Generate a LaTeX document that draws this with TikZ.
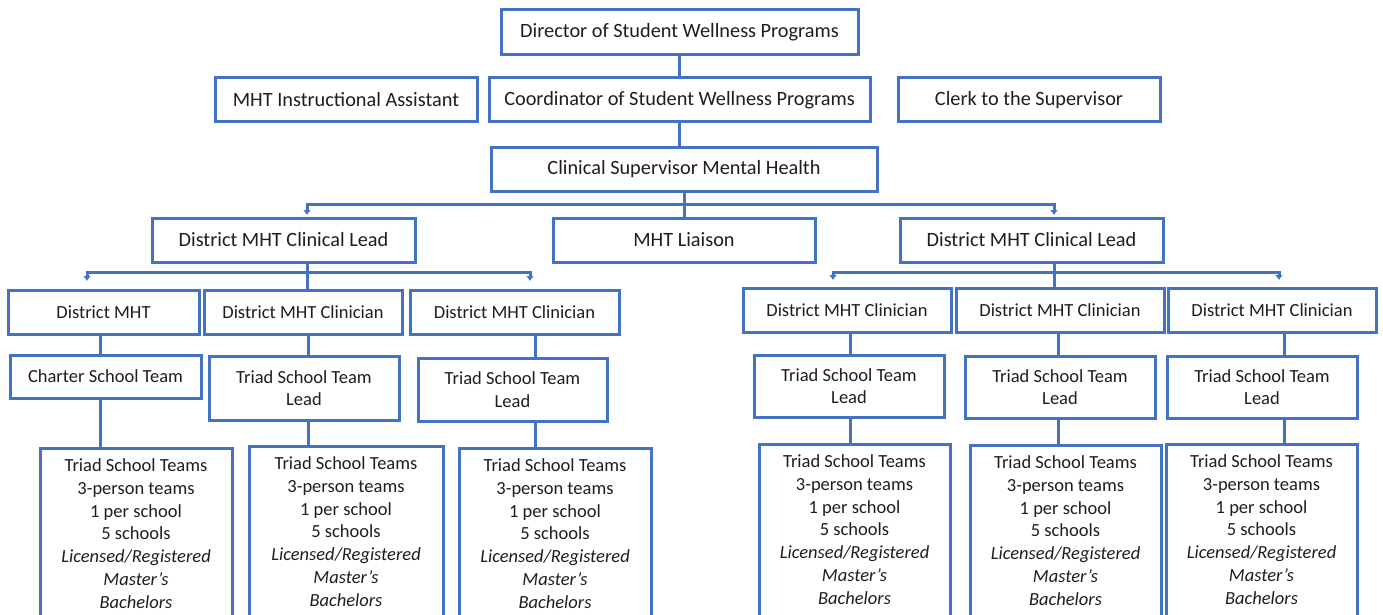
\documentclass[tikz,border=0pt]{standalone}
\usepackage{fontspec}
\setmainfont{Carlito}
\usetikzlibrary{arrows.meta}
\definecolor{orgblue}{HTML}{4472C4}
\definecolor{inkgray}{HTML}{1E1E1E}
\tikzset{->/.style = {-{Latex[length=5pt, width=8pt]}}}
\tikzset{post/.style = {draw=orgblue, line width=3pt, fill=white, text=inkgray,
                        inner sep=0pt, align=center,
                        font=\fontsize{20.3}{24}\selectfont},
         staff/.style = {post, font=\fontsize{18.5}{22.7}\selectfont},
         teams/.style = {staff, anchor=north, inner ysep=10.5pt},
         link/.style = {color=orgblue, line width=3pt}}

\begin{document}
\begin{tikzpicture}[x=1pt, y=-1pt]
    \useasboundingbox (0, 0) rectangle (1383, 615);
    \clip (0, 0) rectangle (1383, 615);

    % office of the director
    \node [post, minimum width=357pt, minimum height=45pt] (director) at (679.5, 32.5) {Director of Student Wellness Programs};
    \node [post, minimum width=262pt, minimum height=44pt] (assistant) at (346, 100) {MHT Instructional Assistant};
    \node [post, minimum width=381pt, minimum height=44pt] (coord) at (679.5, 100) {Coordinator of Student Wellness Programs};
    \node [post, minimum width=262pt, minimum height=44pt] (clerk) at (1029, 100) {Clerk to the Supervisor};
    \node [post, minimum width=386pt, minimum height=44pt] (clinsup) at (684, 169) {Clinical Supervisor Mental Health};

    \node [post, minimum width=263pt, minimum height=44pt] (leadL) at (283.5, 240) {District MHT Clinical Lead};
    \node [post, minimum width=262pt, minimum height=44pt] (liaison) at (684, 240) {MHT Liaison};
    \node [post, minimum width=263pt, minimum height=44pt] (leadR) at (1031.5, 240) {District MHT Clinical Lead};

    % clinicians
    \node [staff, minimum width=191pt, minimum height=44pt] (dmht) at (103.5, 312) {District MHT};
    \node [staff, minimum width=198pt, minimum height=44pt] (clinA) at (303, 312) {District MHT Clinician};
    \node [staff, minimum width=209pt, minimum height=44pt] (clinB) at (514.5, 312) {District MHT Clinician};
    \node [staff, minimum width=208pt, minimum height=44pt] (clinC) at (847, 310) {District MHT Clinician};
    \node [staff, minimum width=208pt, minimum height=44pt] (clinD) at (1060, 310) {District MHT Clinician};
    \node [staff, minimum width=208pt, minimum height=44pt] (clinE) at (1272, 310) {District MHT Clinician};

    % team leads
    \node [staff, minimum width=191pt, minimum height=43pt] (charter) at (105.5, 376.5) {Charter School Team};
    \node [staff, minimum width=190pt, minimum height=64pt] (tlA) at (304, 388) {Triad School Team\\Lead};
    \node [staff, minimum width=189pt, minimum height=63pt] (tlB) at (512.5, 389.5) {Triad School Team\\Lead};
    \node [staff, minimum width=190pt, minimum height=62pt] (tlC) at (849, 386) {Triad School Team\\Lead};
    \node [staff, minimum width=190pt, minimum height=62pt] (tlD) at (1060, 387) {Triad School Team\\Lead};
    \node [staff, minimum width=190pt, minimum height=62pt] (tlE) at (1262, 387) {Triad School Team\\Lead};

    % school teams
    \foreach \name/\x/\y/\w in {tsA/136/447/192, tsB/346/445/194, tsC/555/447/192,
                                tsD/854.5/443/191, tsE/1065.5/444/191, tsF/1261.5/443/191}
      \node [teams, minimum width=\w pt] (\name) at (\x, \y)
        {Triad School Teams\\3-person teams\\1 per school\\5 schools\\
         \textit{Licensed/Registered}\\\textit{Master's}\\\textit{Bachelors}\\[8pt]};

    % reporting lines
    \draw [link] (director.south) -- (coord.north);
    \draw [link] (coord.south) -- (coord.south |- clinsup.north);
    \draw [link] (clinsup.south) -- (liaison.north);

    \coordinate (split) at (684, 204);
    \coordinate (inL) at (307, 215);
    \coordinate (inR) at (1054, 215);
    \draw [link, ->] (split) -| (inL);
    \draw [link, ->] (split) -| (inR);

    \coordinate (forkL) at (307, 272);
    \coordinate (forkR) at (1054, 272);
    \draw [link] (leadL.south -| forkL) -- (clinA.north -| forkL);
    \draw [link] (leadR.south -| forkR) -- (clinD.north -| forkR);

    \coordinate (dropA) at (87, 281);
    \coordinate (dropB) at (530, 281);
    \coordinate (dropC) at (833, 280);
    \coordinate (dropE) at (1279, 280);
    \draw [link, ->] (forkL) -| (dropA);
    \draw [link, ->] (forkL) -| (dropB);
    \draw [link, ->] (forkR) -| (dropC);
    \draw [link, ->] (forkR) -| (dropE);

    \foreach \top/\mid/\bot/\x in {dmht/charter/tsA/100, clinA/tlA/tsB/308, clinB/tlB/tsC/535,
                                   clinC/tlC/tsD/850, clinD/tlD/tsE/1058, clinE/tlE/tsF/1284} {
      \coordinate (col) at (\x, 0);
      \draw [link] (\top.south -| col) -- (\mid.north -| col);
      \draw [link] (\mid.south -| col) -- (\bot.north -| col);
    }
\end{tikzpicture}
\end{document}
